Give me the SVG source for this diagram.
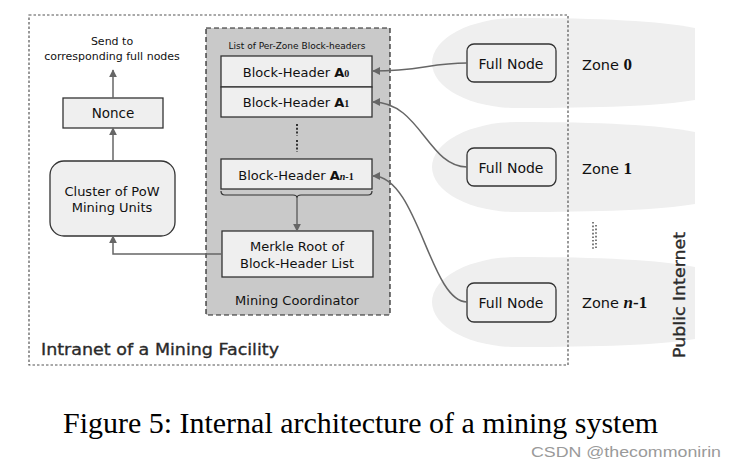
<svg xmlns="http://www.w3.org/2000/svg" width="740" height="467" viewBox="0 0 740 467">
<defs>
<style>
.t{font-family:"DejaVu Sans",sans-serif;fill:#111;}
.box{fill:#efefef;stroke:#333;stroke-width:1.3;}
.con{fill:none;stroke:#666;stroke-width:1.5;}
.zone{fill:#efefef;stroke:none;}
.big{font-family:"DejaVu Sans",sans-serif;fill:#2a2a2a;stroke:#2a2a2a;stroke-width:0.35;font-size:16.5px;}
.ser{font-family:"Liberation Serif",serif;font-weight:bold;}
</style>
<marker id="ah" viewBox="0 0 10 10" refX="9" refY="5" markerWidth="8" markerHeight="8" markerUnits="userSpaceOnUse" orient="auto">
<path d="M0,0 L10,5 L0,10 Z" fill="#666"/>
</marker>
<path id="zshape" d="M517,-45 C600,-45 660,-42 695,-35 L695,37 C660,43 600,45 517,45 A85 45 0 0 1 517 -45 Z"/>
</defs>
<rect width="740" height="467" fill="#fff"/>

<g id="zones">
<use href="#zshape" class="zone" transform="translate(0,63)"/>
<use href="#zshape" class="zone" transform="translate(0,167)"/>
<use href="#zshape" class="zone" transform="translate(0,302)"/>
</g>

<g id="intranet">
<rect x="29" y="15" width="539" height="350" fill="none" stroke="#555" stroke-width="1.2" stroke-dasharray="2.5,2"/>
<text class="big" x="41" y="355" textLength="238" lengthAdjust="spacingAndGlyphs">Intranet of a Mining Facility</text>
</g>

<g id="coordinator">
<rect x="206" y="28" width="184" height="287" fill="#c9c9c9" stroke="#222" stroke-width="1.2" stroke-dasharray="5,3"/>
<text class="t" x="297" y="49" font-size="9" text-anchor="middle">List of Per-Zone Block-headers</text>
<text class="t" x="297" y="305" font-size="13" text-anchor="middle">Mining Coordinator</text>
</g>

<g id="bh0">
<rect class="box" x="221" y="56" width="151" height="31"/>
<text class="t" x="296" y="77" font-size="13" text-anchor="middle">Block-Header <tspan font-weight="bold">A</tspan><tspan class="ser" font-size="10">0</tspan></text>
</g>
<g id="bh1">
<rect class="box" x="221" y="87" width="151" height="30"/>
<text class="t" x="296" y="107" font-size="13" text-anchor="middle">Block-Header <tspan font-weight="bold">A</tspan><tspan class="ser" font-size="10">1</tspan></text>
</g>
<g id="vdots">
<line x1="297" y1="124" x2="297" y2="136" stroke="#333" stroke-width="2" stroke-dasharray="2,1.8"/>
<line x1="297" y1="140" x2="297" y2="152" stroke="#333" stroke-width="2" stroke-dasharray="2,1.8"/>
</g>
<g id="bhn">
<rect class="box" x="221" y="159" width="151" height="30"/>
<text class="t" x="296" y="180" font-size="13" text-anchor="middle">Block-Header <tspan font-weight="bold">A</tspan><tspan class="ser" font-size="10" font-style="italic">n</tspan><tspan class="ser" font-size="10">-1</tspan></text>
</g>
<g id="brace">
<path d="M221,191 Q221,195 225,195 H293 Q297,195 297,198 Q297,195 301,195 H368 Q372,195 372,191" fill="none" stroke="#333" stroke-width="1.2"/>
</g>
<g id="merkle">
<rect class="box" x="222" y="231" width="151" height="46"/>
<text class="t" x="297" y="251" font-size="13" text-anchor="middle">Merkle Root of</text>
<text class="t" x="297" y="268" font-size="13" text-anchor="middle">Block-Header List</text>
</g>

<g id="send">
<text class="t" x="112" y="45" font-size="11" text-anchor="middle">Send to</text>
<text class="t" x="112" y="60" font-size="11" text-anchor="middle">corresponding full nodes</text>
</g>
<g id="nonce">
<rect class="box" x="63" y="98" width="100" height="30"/>
<text class="t" x="113" y="118" font-size="13.5" text-anchor="middle">Nonce</text>
</g>
<g id="cluster">
<rect class="box" x="50" y="161" width="125" height="75" rx="14"/>
<text class="t" x="112" y="196" font-size="13" text-anchor="middle">Cluster of PoW</text>
<text class="t" x="112" y="212" font-size="13" text-anchor="middle">Mining Units</text>
</g>

<g id="fn0">
<rect class="box" x="467" y="44" width="89" height="38" rx="7"/>
<text class="t" x="511" y="68.5" font-size="14" text-anchor="middle">Full Node</text>
</g>
<g id="fn1">
<rect class="box" x="467" y="148" width="89" height="38" rx="7"/>
<text class="t" x="511" y="173" font-size="14" text-anchor="middle">Full Node</text>
</g>
<g id="fnn">
<rect class="box" x="467" y="283" width="89" height="39" rx="7"/>
<text class="t" x="511" y="308" font-size="14" text-anchor="middle">Full Node</text>
</g>

<g id="zlabels">
<text class="t" x="582" y="70" font-size="14.5">Zone <tspan class="ser" font-size="17">0</tspan></text>
<text class="t" x="582" y="174" font-size="14.5">Zone <tspan class="ser" font-size="17">1</tspan></text>
<text class="t" x="582" y="308" font-size="14.5">Zone <tspan class="ser" font-size="17" font-style="italic">n</tspan><tspan class="ser" font-size="17">-1</tspan></text>
<line x1="593" y1="222" x2="593" y2="250" stroke="#444" stroke-width="1.4" stroke-dasharray="1.6,2"/>
<line x1="596" y1="225" x2="596" y2="248" stroke="#444" stroke-width="1.4" stroke-dasharray="1.6,2"/>
</g>

<g id="internet">
<text class="big" transform="translate(685,295) rotate(-90)" text-anchor="middle" font-size="17" textLength="126" lengthAdjust="spacingAndGlyphs">Public Internet</text>
</g>

<g id="connectors">
<path class="con" d="M467,63 C430,63 420,71 373,71" marker-end="url(#ah)"/>
<path class="con" d="M467,167 C428,167 420,102 373,102" marker-end="url(#ah)"/>
<path class="con" d="M467,302 C430,302 418,176 373,176" marker-end="url(#ah)"/>
<path class="con" d="M297,198 V231" marker-end="url(#ah)"/>
<path class="con" d="M222,254 H113 V236" marker-end="url(#ah)"/>
<path class="con" d="M113,161 V128" marker-end="url(#ah)"/>
<path class="con" d="M113,98 V70" marker-end="url(#ah)"/>
</g>

<g id="caption">
<text x="63" y="433" font-family="Liberation Serif,serif" font-size="29" fill="#000" textLength="595" lengthAdjust="spacingAndGlyphs">Figure 5: Internal architecture of a mining system</text>
<text x="531" y="457" font-family="Liberation Sans,sans-serif" font-size="14.5" fill="#9a9a9a" textLength="190" lengthAdjust="spacingAndGlyphs">CSDN @thecommonirin</text>
</g>
</svg>
